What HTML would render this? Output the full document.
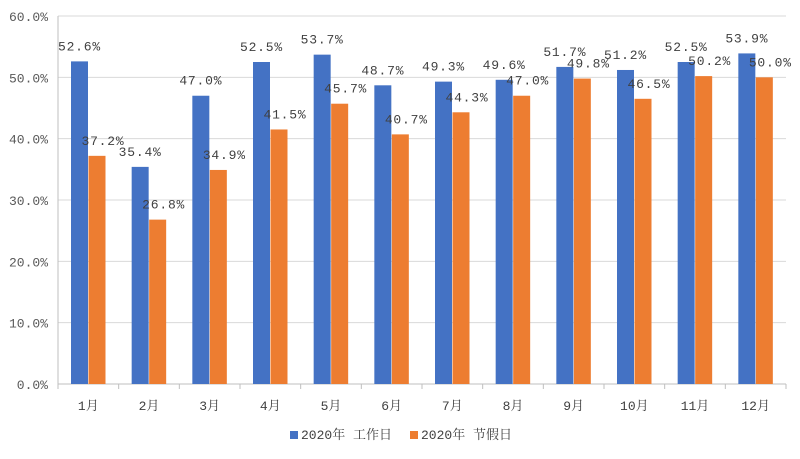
<!DOCTYPE html>
<html><head><meta charset="utf-8"><style>
body{margin:0;background:#fff;}
svg text{font-family:"Liberation Mono","Noto Serif CJK SC","Noto Sans CJK SC",monospace;}
</style></head><body>
<svg id="chart" width="800" height="454" xmlns="http://www.w3.org/2000/svg"></svg>
<script>
const categories=["1月","2月","3月","4月","5月","6月","7月","8月","9月","10月","11月","12月"];
const workday=[52.6,35.4,47.0,52.5,53.7,48.7,49.3,49.6,51.7,51.2,52.5,53.9];
const holiday=[37.2,26.8,34.9,41.5,45.7,40.7,44.3,47.0,49.8,46.5,50.2,50.0];
const yTicks=[0,10,20,30,40,50,60];
const seriesNames=["2020年 工作日","2020年 节假日"];
const colors=["#4472c4","#ed7d31"];
const svg=document.getElementById('chart');
const NS="http://www.w3.org/2000/svg";
const L=58,R=786,T=16,B=384;
const gw=(R-L)/categories.length;
const y=v=>B-(v/60)*(B-T);
const xg=i=>L+i*gw;
function mk(tag,attrs,text){const e=document.createElementNS(NS,tag);for(const k in attrs)e.setAttribute(k,attrs[k]);if(text!==undefined)e.textContent=text;svg.appendChild(e);return e;}
yTicks.forEach(t=>{
  const g=mk('line',{x1:L,x2:R,y1:y(t),y2:y(t),stroke:t===0?'#bfbfbf':'#d9d9d9','stroke-width':1});
  
  
  const tx=mk('text',{x:48,y:y(t)+5,'text-anchor':'end','font-size':13,fill:'#595959'},t.toFixed(1)+'%');
  
  
});
const ax=mk('line',{x1:L,x2:L,y1:T,y2:B,stroke:'#bfbfbf'});


for(let i=0;i<=categories.length;i++){
  const tk=mk('line',{x1:xg(i),x2:xg(i),y1:B,y2:B+5,stroke:'#bfbfbf'});
  
  
}
categories.forEach((c,i)=>{
  [workday,holiday].forEach((arr,s)=>{
    const bx=xg(i)+13+s*17.5;
    const r=mk('rect',{x:bx,y:y(arr[i]),width:17,height:B-y(arr[i]),fill:colors[s]});
    
    
    const lb=mk('text',{x:bx+8.5+(s?6:0),y:y(arr[i])-11,'text-anchor':'middle','font-size':13,'letter-spacing':0.8,fill:'#404040'},arr[i].toFixed(1)+'%');
    
    
  });
  const cl=mk('text',{x:xg(i)+gw/2,y:410,'text-anchor':'middle','font-size':13,fill:'#404040'},c);
  
  
});
const lx=[290,410];
seriesNames.forEach((n,s)=>{
  const sw=mk('rect',{x:lx[s],y:431,width:8,height:8,fill:colors[s]});
  
  
  const t=mk('text',{x:lx[s]+11,y:439,'font-size':13,fill:'#404040'},n);
  
  
});
</script>
</body></html>
